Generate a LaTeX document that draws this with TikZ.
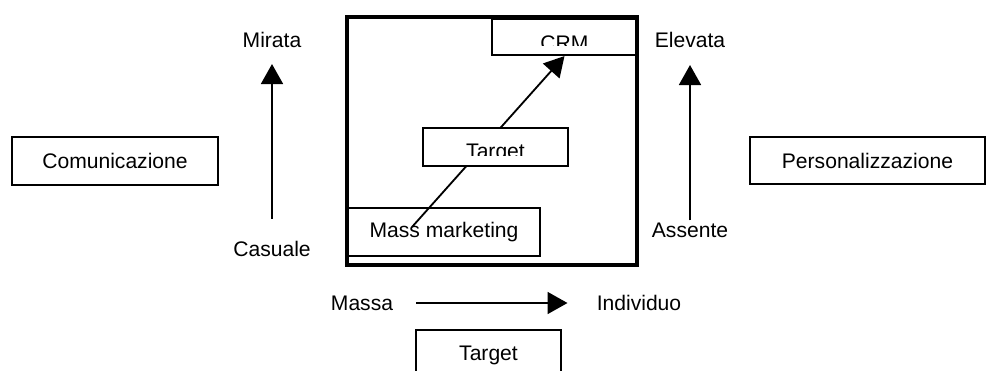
\documentclass[tikz,border=0pt]{standalone}
\usepackage{fontspec}
\setmainfont{Liberation Sans}
\usetikzlibrary{arrows.meta}

\begin{document}
\begin{tikzpicture}[x=0.025cm, y=-0.025cm,
		every node/.style={font=\fontsize{15}{18}\selectfont},
		box/.style={draw, line width=1.5pt, fill=white, inner sep=0pt},
		lbl/.style={inner sep=0pt},
		arr/.style={line width=1.3pt, -{Triangle[length=0.5cm, width=0.55cm]}}]
			\def\px{0.025cm};

			\useasboundingbox (0,0) rectangle (988,370);

			% the two side boxes
			\node[box, minimum width=206*\px, minimum height=48*\px] (comm) at (115,161) {Comunicazione};
			\node[box, minimum width=235*\px, minimum height=47*\px] (pers) at (867.5,160.5) {Personalizzazione};

			% vertical scales
			\node[lbl] (mirata) at (272,40) {Mirata};
			\node[lbl] (casuale) at (272,249) {Casuale};
			\draw[arr, shorten <=22*\px, shorten >=16*\px] (casuale) -- (mirata);

			\node[lbl] (elevata) at (690,40) {Elevata};
			\node[lbl] (assente) at (690,230) {Assente};
			\draw[arr, shorten <=2*\px, shorten >=17*\px] (assente) -- (elevata);

			% horizontal scale
			\node[lbl] (massa) at (362,303) {Massa};
			\node[lbl] (individuo) at (639,303) {Individuo};
			\draw[arr, shorten <=23*\px, shorten >=29*\px] (massa) -- (individuo);

			\node[box, minimum width=145*\px, minimum height=52*\px] (target) at (488.5,355.7) {Target};

			% inside the square
			\node[box, minimum width=192*\px, minimum height=48*\px] (mass) at (444,232) {Mass marketing};

			\node[box, minimum width=145*\px, minimum height=36*\px,
				path picture={
					\clip ([yshift=10*\px]path picture bounding box.south west) rectangle (path picture bounding box.north east);
					\node[anchor=base] at ([yshift=5*\px]path picture bounding box.south) {CRM};
				}] (crm) at (564.5,37) {};

			\coordinate (mstart) at (412,227);
			\draw[arr] (mstart) -- (crm.south);

			\node[box, minimum width=145*\px, minimum height=38*\px,
				path picture={
					\clip ([yshift=11*\px]path picture bounding box.south west) rectangle (path picture bounding box.north east);
					\node[anchor=base] at ([yshift=8*\px]path picture bounding box.south) {Target};
				}] (tgt) at (495.5,147) {};

			\node[draw, line width=2.8pt, inner sep=0pt, minimum width=290*\px, minimum height=248*\px] (frame) at (492,141) {};
		\end{tikzpicture}
\end{document}
